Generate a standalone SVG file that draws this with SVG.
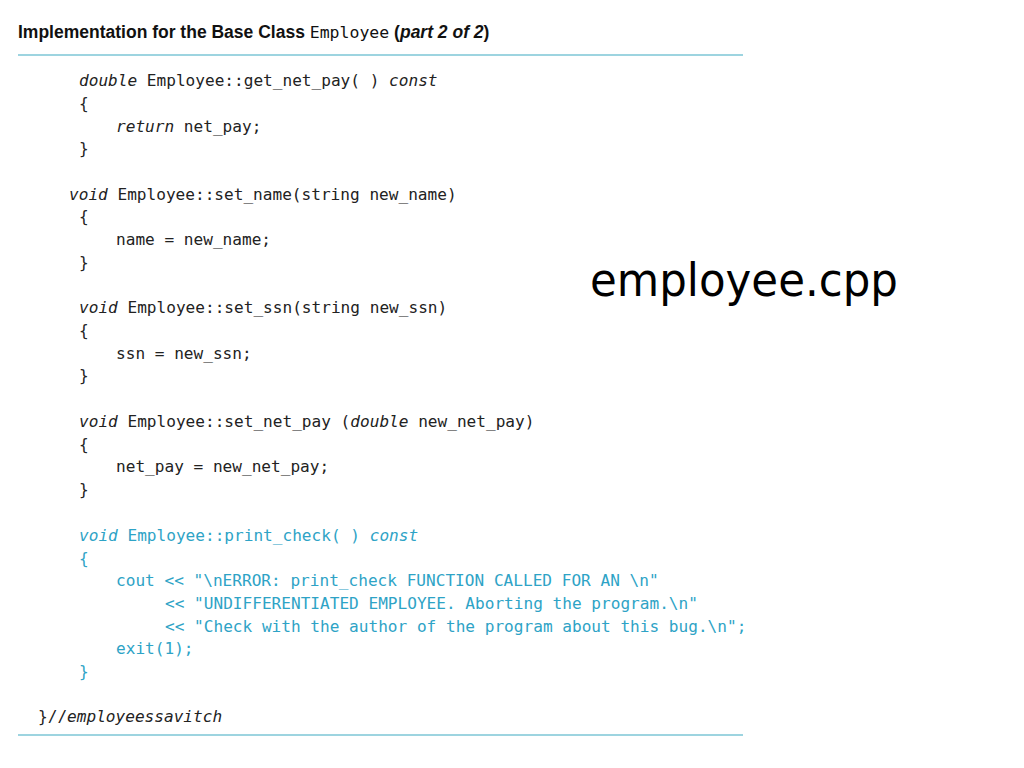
<svg xmlns="http://www.w3.org/2000/svg" width="1024" height="768" viewBox="0 0 1024 768">
<style>
.c{font-family:"DejaVu Sans Mono","Liberation Mono",monospace;font-size:16.1px;fill:#222}
.b{fill:#2ea3c6}
.i{font-style:italic}
.t{font-family:"Liberation Sans",Arial,sans-serif;font-size:17.5px;font-weight:bold;fill:#111}
</style>
<rect width="1024" height="768" fill="#fff"/>
<text x="18" y="38" class="t">Implementation for the Base Class <tspan font-family="DejaVu Sans Mono" font-weight="normal" font-size="16.5">Employee</tspan> (<tspan font-style="italic">part 2 of 2</tspan>)</text>
<line x1="18" y1="55" x2="743" y2="55" stroke="#7cc6d6" stroke-width="1.5"/>
<g class="c">
<text x="79" y="86"><tspan class="i">double</tspan> Employee::get_net_pay( ) <tspan class="i">const</tspan></text>
<text x="79" y="109">{</text>
<text x="116" y="132"><tspan class="i">return</tspan> net_pay;</text>
<text x="79" y="154">}</text>
<text x="69" y="200"><tspan class="i">void</tspan> Employee::set_name(string new_name)</text>
<text x="79" y="222">{</text>
<text x="116" y="245">name = new_name;</text>
<text x="79" y="268">}</text>
<text x="79" y="313"><tspan class="i">void</tspan> Employee::set_ssn(string new_ssn)</text>
<text x="79" y="336">{</text>
<text x="116" y="359">ssn = new_ssn;</text>
<text x="79" y="381">}</text>
<text x="79" y="427"><tspan class="i">void</tspan> Employee::set_net_pay (<tspan class="i">double</tspan> new_net_pay)</text>
<text x="79" y="450">{</text>
<text x="116" y="472">net_pay = new_net_pay;</text>
<text x="79" y="495">}</text>
<g class="b">
<text x="79" y="541"><tspan class="i">void</tspan> Employee::print_check( ) <tspan class="i">const</tspan></text>
<text x="79" y="564">{</text>
<text x="116" y="586">cout &lt;&lt; "\nERROR: print_check FUNCTION CALLED FOR AN \n"</text>
<text x="165" y="609">&lt;&lt; "UNDIFFERENTIATED EMPLOYEE. Aborting the program.\n"</text>
<text x="165" y="632">&lt;&lt; "Check with the author of the program about this bug.\n";</text>
<text x="116" y="654">exit(1);</text>
<text x="79" y="677">}</text>
</g>
<text x="38" y="722">}//<tspan class="i">employeessavitch</tspan></text>
</g>
<line x1="18" y1="735" x2="743" y2="735" stroke="#7cc6d6" stroke-width="1.5"/>
<text x="590" y="296" font-family="DejaVu Sans,sans-serif" font-size="46" fill="#000" textLength="308" lengthAdjust="spacingAndGlyphs">employee.cpp</text>
</svg>
